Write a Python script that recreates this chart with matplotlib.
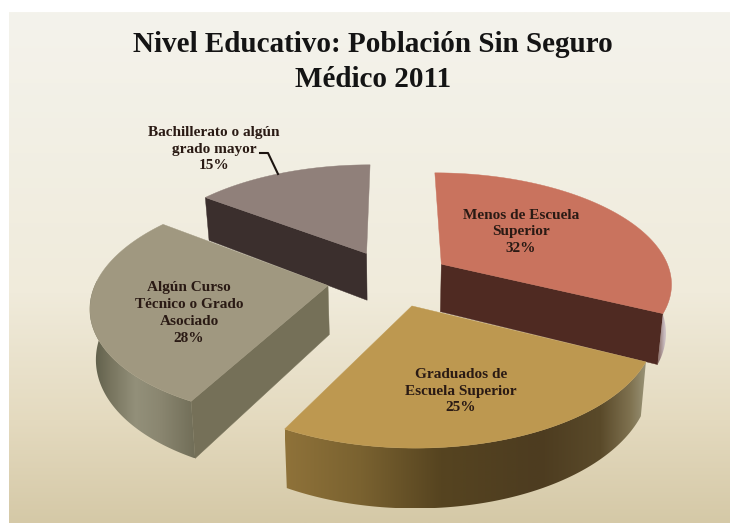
# -*- coding: utf-8 -*-
"""Pastel 3D separado: nivel educativo, poblacion sin seguro medico."""
import numpy as np
import matplotlib
matplotlib.use("Agg")
import matplotlib.pyplot as plt
from matplotlib.colors import LinearSegmentedColormap, to_rgb
from matplotlib.patches import Polygon

plt.rcParams["font.family"] = ["Liberation Serif", "DejaVu Serif"]

TITLE = "Nivel Educativo: Población Sin Seguro\nMédico 2011"
names = ["Menos de Escuela\nSuperior", "Graduados de\nEscuela Superior",
         "Algún Curso\nTécnico o Grado\nAsociado", "Bachillerato o algún\ngrado mayor"]
shares = [32.2, 25.49, 27.51, 14.8]
explode = [60, 60, 68, 63]

top_colors = ["#c9735e", "#bd9850", "#a09880", "#90807a"]
wall_colors = ["#4f2a22", "#6b5a35", "#757058", "#3b2f2d"]
arc_stops = [
    [(655, "#6d4a40"), (664, "#c9bcc0"), (673, "#e4dcd4")],
    [(281, "#90733a"), (360, "#7a6230"), (440, "#564420"), (540, "#4d3c20"),
     (600, "#5a4a2a"), (630, "#7f7250"), (646, "#9a9478")],
    [(90, "#5a5a46"), (110, "#77745e"), (135, "#93907a"), (160, "#8a8670"), (200, "#6d6a54")],
    [(200, "#3b2f2d"), (367, "#3b2f2d")],
]
# que pared recta se ve en cada porcion: 0 inicio, 1 fin, None ninguna
flat_wall = [1, None, 0, 0]
label_xy = [(521, 232), (461, 391), (189, 313), (214, 149)]

# proyeccion del plano del pastel a pixeles
CX, Y0, VP = 393, 300, 0.000685
TILT = 0.491
R, CV, DEPTH = 238, 45, 50


def project(u, v, low=False):
    w = 1 + VP * v
    x = CX + u / w
    y = Y0 - TILT * v / w
    if low:
        x = CX + (x - CX) * 0.98
        y = y + DEPTH / w
    return x, y


fig = plt.figure(figsize=(7.3, 5.23), dpi=100, facecolor="white")
ax = fig.add_axes([0, 0, 1, 1])

bg = LinearSegmentedColormap.from_list(
    "bg", [(0, "#f4f3ec"), (0.55, "#f0ebdb"), (0.8, "#e4dabf"), (1, "#d5c9a7")])
ax.imshow(np.linspace(0, 1, 256)[:, None], cmap=bg, aspect="auto",
          extent=[9, 730, 523, 12], zorder=0)

draw_order = [3, 0, 2, 1]
edges = np.cumsum([0] + shares) * 3.6
for i in draw_order:
    a0, a1 = np.radians(edges[i]), np.radians(edges[i + 1])
    mid = (a0 + a1) / 2
    u0 = explode[i] * np.sin(mid)
    v0 = CV + explode[i] * np.cos(mid)
    th = np.linspace(a0, a1, 120)
    us = u0 + R * np.sin(th)
    vs = v0 + R * np.cos(th)
    z = 2 + draw_order.index(i) * 3

    # pared recta visible
    if flat_wall[i] is not None:
        k = -flat_wall[i]
        xa, ya = project(u0, v0)
        xb, yb = project(us[k], vs[k])
        xc, yc = project(us[k], vs[k], low=True)
        xd, yd = project(u0, v0, low=True)
        ax.fill([xa, xb, xc, xd], [ya, yb, yc, yd], color=wall_colors[i], lw=0.3, zorder=z)

    # pared curva (solo la parte que mira al frente) con degradado horizontal
    front = np.cos(th) < 0.05
    if front.any() and i != 3:
        x1, y1 = project(us[front], vs[front])
        x2, y2 = project(us[front], vs[front], low=True)
        poly = np.c_[np.r_[x1, x2[::-1]], np.r_[y1, y2[::-1]]]
        xs = np.linspace(poly[:, 0].min(), poly[:, 0].max(), 300)
        sx = [s[0] for s in arc_stops[i]]
        sc = np.array([to_rgb(s[1]) for s in arc_stops[i]])
        grad = np.stack([np.interp(xs, sx, sc[:, c]) for c in range(3)], axis=-1)[None, :, :]
        im = ax.imshow(grad, aspect="auto", zorder=z + 1, interpolation="bilinear",
                       extent=[xs[0], xs[-1], poly[:, 1].max(), poly[:, 1].min()])
        im.set_clip_path(Polygon(poly, closed=True, transform=ax.transData))

    # cara superior
    px, py = project(np.r_[u0, us], np.r_[v0, vs])
    ax.fill(px, py, color=top_colors[i], lw=0.3, zorder=z + 2)

ax.plot([260, 268, 278], [153, 153, 174], color="#1c1410", lw=1.5, zorder=20)

for name, share, (x, y) in zip(names, shares, label_xy):
    ax.text(x, y, f"{name}\n{share:.0f}%", ha="center", va="center", fontsize=11,
            fontweight="bold", color="#2a1a14", linespacing=1.38, zorder=21)

ax.text(373, 62, TITLE, ha="center", va="center", fontsize=21, fontweight="bold",
        color="#141414", linespacing=1.37, zorder=21)

ax.set_xlim(0, 730)
ax.set_ylim(523, 0)
ax.axis("off")
fig.savefig("out.png", dpi=100)
plt.close(fig)
